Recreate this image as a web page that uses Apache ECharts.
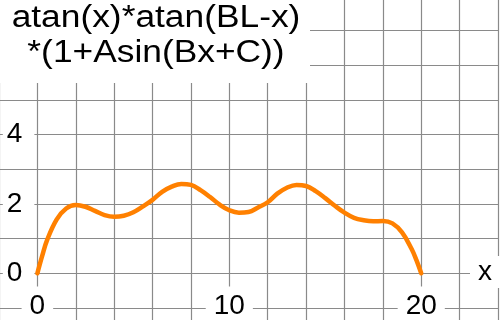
<!DOCTYPE html>
<html><head><meta charset="utf-8">
<script src="https://cdn.jsdelivr.net/npm/echarts@6/dist/echarts.min.js"></script>
<style>html,body{margin:0;padding:0;background:#fff;overflow:hidden;width:500px;height:320px}#c{position:absolute;left:-4px;top:-4px;width:505px;height:347px}</style>
</head><body><div id="c"></div>
<script>
// data
const xs = [0, 0.25, 0.5, 1, 1.5, 2, 2.5, 3, 3.5, 4, 4.5, 5, 5.5, 6, 6.5, 7, 7.5, 8, 8.5, 9, 9.5, 10, 10.5, 11, 11.5, 12, 12.5, 13, 13.5, 14, 14.5, 15, 15.5, 16, 16.5, 17, 17.5, 18, 18.5, 19, 19.5, 19.75, 20];
const ys = [0, 0.5, 0.95, 1.55, 1.87, 1.97, 1.92, 1.8, 1.68, 1.63, 1.66, 1.76, 1.93, 2.12, 2.35, 2.5, 2.58, 2.55, 2.4, 2.2, 1.98, 1.82, 1.75, 1.77, 1.9, 2.05, 2.3, 2.47, 2.55, 2.52, 2.37, 2.17, 1.95, 1.75, 1.6, 1.53, 1.5, 1.51, 1.44, 1.18, 0.7, 0.38, 0];
const xTickLabels = [0, 10, 20];
const yTickLabels = [0, 2, 4];
const titleLines = ['atan(x)*atan(BL-x)', '*(1+Asin(Bx+C))'];
const xName = 'x';

const FONT = '"Liberation Sans", Arial, sans-serif';
const OFF = 4; // the chart canvas is shifted 4px up/left so that the grid can run past the window edges
const chart = echarts.init(document.getElementById('c'), null, {renderer: 'canvas'});
const gridLine = {show: true, lineStyle: {color: '#8a8a8a', width: 1.2}};
chart.setOption({
  animation: false,
  backgroundColor: '#fff',
  grid: {left: 0.17, right: 0.04, top: 0.1, bottom: 0.4, containLabel: false},
  xAxis: {
    type: 'value', min: -2, max: 24, interval: 2,
    axisLine: {show: false}, axisTick: {show: false}, splitLine: gridLine,
    axisLabel: {
      inside: true, margin: 21,
      formatter: v => xTickLabels.includes(v) ? '{b|' + v + '}' : '',
      rich: {b: {fontFamily: FONT, fontSize: 28, lineHeight: 28, color: '#000', backgroundColor: '#fff', padding: [6, 8, 8, 8]}}
    }
  },
  yAxis: {
    type: 'value', min: -2, max: 8, interval: 1,
    axisLine: {show: false}, axisTick: {show: false}, splitLine: gridLine,
    axisLabel: {
      inside: true, margin: 3.8,
      formatter: v => yTickLabels.includes(v) ? '{b|' + v + '}' : '',
      rich: {b: {fontFamily: FONT, fontSize: 28, lineHeight: 28, color: '#000', backgroundColor: '#fff', padding: [4, 12, 4, 4]}}
    }
  },
  series: [{
    type: 'line', data: xs.map((x, i) => [x, ys[i]]),
    smooth: 0.4, showSymbol: false,
    lineStyle: {color: '#ff8000', width: 4.5, cap: 'round'}
  }],
  graphic: [
    {type: 'rect', shape: {x: 0, y: 0, width: 310 + OFF, height: 83 + OFF}, style: {fill: '#fff'}, z: 10},
    {type: 'text', x: 156 + OFF, y: 1 + OFF, scaleX: 1.14, z: 11,
      style: {text: titleLines.join('\n'), textAlign: 'center', textVerticalAlign: 'top',
        font: '31px ' + FONT, lineHeight: 35, fill: '#000'}},
    {type: 'text', x: 487 + OFF, y: 272 + OFF, z: 11,
      style: {text: xName, textAlign: 'center', textVerticalAlign: 'middle', font: '28px ' + FONT,
        fill: '#000', backgroundColor: '#fff', padding: [2, 12, 2, 8]}}
  ]
});
</script></body></html>
